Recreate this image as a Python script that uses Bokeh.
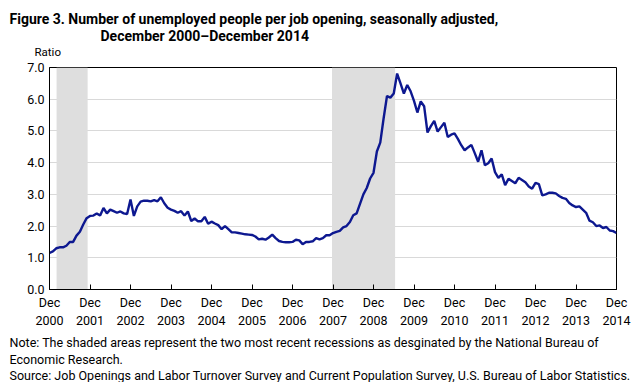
from bokeh.plotting import figure
from bokeh.models import Range1d, BoxAnnotation, FixedTicker, ColumnDataSource, Title
from bokeh.embed import file_html
from bokeh.resources import INLINE

# ---- data: monthly ratio, Dec 2000 .. Dec 2014 ----
ratio = [
    1.15, 1.20, 1.30, 1.33, 1.33, 1.38, 1.50, 1.50, 1.70, 1.82, 2.05, 2.25,
    2.32, 2.33, 2.40, 2.33, 2.57, 2.40, 2.52, 2.47, 2.42, 2.46, 2.40, 2.38,
    2.84, 2.32, 2.62, 2.77, 2.80, 2.80, 2.78, 2.82, 2.78, 2.91, 2.72, 2.58,
    2.52, 2.48, 2.42, 2.47, 2.33, 2.46, 2.16, 2.24, 2.15, 2.15, 2.29, 2.07,
    2.14, 2.08, 2.03, 1.90, 2.00, 1.90, 1.80, 1.80, 1.78, 1.76, 1.74, 1.73,
    1.72, 1.67, 1.58, 1.60, 1.57, 1.64, 1.73, 1.62, 1.53, 1.50, 1.49, 1.49,
    1.50, 1.57, 1.55, 1.43, 1.50, 1.50, 1.52, 1.62, 1.58, 1.62, 1.71, 1.71,
    1.78, 1.82, 1.85, 1.96, 2.00, 2.13, 2.34, 2.40, 2.70, 3.00, 3.20, 3.50,
    3.68, 4.35, 4.63, 5.40, 6.10, 6.05, 6.18, 6.81, 6.50, 6.18, 6.45, 6.25,
    5.95, 5.58, 5.93, 5.78, 4.95, 5.15, 5.32, 4.98, 5.12, 5.26, 4.81, 4.88,
    4.92, 4.75, 4.55, 4.39, 4.48, 4.56, 4.30, 4.03, 4.39, 3.92, 3.98, 4.13,
    3.70, 3.52, 3.63, 3.29, 3.49, 3.42, 3.35, 3.52, 3.45, 3.38, 3.25, 3.18,
    3.36, 3.32, 2.97, 3.00, 3.05, 3.05, 3.03, 2.95, 2.89, 2.86, 2.73, 2.65,
    2.60, 2.62, 2.52, 2.42, 2.17, 2.12, 2.00, 2.02, 1.94, 1.97, 1.86, 1.84,
    1.78,
]
months = list(range(len(ratio)))  # 0 = Dec 2000
years = [str(y) for y in range(2000, 2015)]
tick_months = [12 * i for i in range(len(years))]
y_ticks = [0, 1, 2, 3, 4, 5, 6, 7]
# recessions (month index from Dec 2000)
rec_start = [2.1, 83.7]
rec_end = [11.3, 102.4]

title_1 = "Figure 3. Number of unemployed people per job opening, seasonally adjusted,"
title_2 = "December 2000\u2013December 2014"
y_label = "Ratio"
notes = [
    "Note: The shaded areas represent the two most recent recessions as desginated by the National Bureau of",
    "Economic Research.",
    "Source: Job Openings and Labor Turnover Survey and Current Population Survey, U.S. Bureau of Labor Statistics.",
]

FONT = "Roboto"

p = figure(frame_width=567, frame_height=222, output_backend="svg", toolbar_location=None,
           x_range=Range1d(0, 168), y_range=Range1d(0, 7),
           min_border_left=49, min_border_right=17, min_border_top=10, min_border_bottom=3)
p.outline_line_color = "black"
p.outline_line_width = 1
p.background_fill_color = "white"
p.border_fill_color = "white"

for s, e in zip(rec_start, rec_end):
    p.add_layout(BoxAnnotation(left=s, right=e, fill_color="#dedede", fill_alpha=1.0,
                               line_alpha=0, level="underlay"))

src = ColumnDataSource(dict(x=months, y=ratio))
p.line("x", "y", source=src, line_color="#0d1890", line_width=2.4)

p.xgrid.visible = False
p.ygrid.ticker = FixedTicker(ticks=y_ticks)
p.ygrid.grid_line_color = "#d9d9d9"
p.ygrid.grid_line_width = 1
p.ygrid.level = "underlay"

p.xaxis.ticker = FixedTicker(ticks=tick_months)
p.xaxis.major_label_overrides = {m: "Dec\n" + y for m, y in zip(tick_months, years)}
p.xaxis.major_tick_in = 5
p.xaxis.major_tick_out = 0
p.xaxis.minor_tick_line_color = None
p.xaxis.major_label_text_font = FONT
p.xaxis.major_label_text_font_size = "12.5px"
p.xaxis.major_label_text_line_height = 1.25
p.xaxis.major_label_text_color = "black"
p.xaxis.major_label_standoff = 5
p.xaxis.axis_line_color = "black"

p.yaxis.ticker = FixedTicker(ticks=y_ticks)
p.yaxis.major_label_overrides = {t: "%.1f" % t for t in y_ticks}
p.yaxis.major_tick_in = 0
p.yaxis.major_tick_out = 0
p.yaxis.minor_tick_line_color = None
p.yaxis.major_label_text_font = FONT
p.yaxis.major_label_text_font_size = "12.5px"
p.yaxis.major_label_text_color = "black"
p.yaxis.major_label_standoff = 5
p.yaxis.axis_line_color = "black"

def title(text, side, offset, size, bold, standoff):
    t = Title(text=text, align="left", offset=offset, standoff=standoff,
              text_font=FONT, text_font_size=size, text_color="black",
              text_font_style="bold" if bold else "normal")
    p.add_layout(t, side)

# above: first added is closest to the plot
title(y_label, "above", -15, "11.5px", False, 17)
title(title_2, "above", 51, "14px", True, -19)
title(title_1, "above", -40, "14px", True, 16)
# below: first added is closest to the axis
title(notes[0], "below", -40, "12.5px", False, 2)
title(notes[1], "below", -40, "12.5px", False, -1)
title(notes[2], "below", -40, "12.5px", False, -1)

open("out.html", "w").write(file_html(p, INLINE))
